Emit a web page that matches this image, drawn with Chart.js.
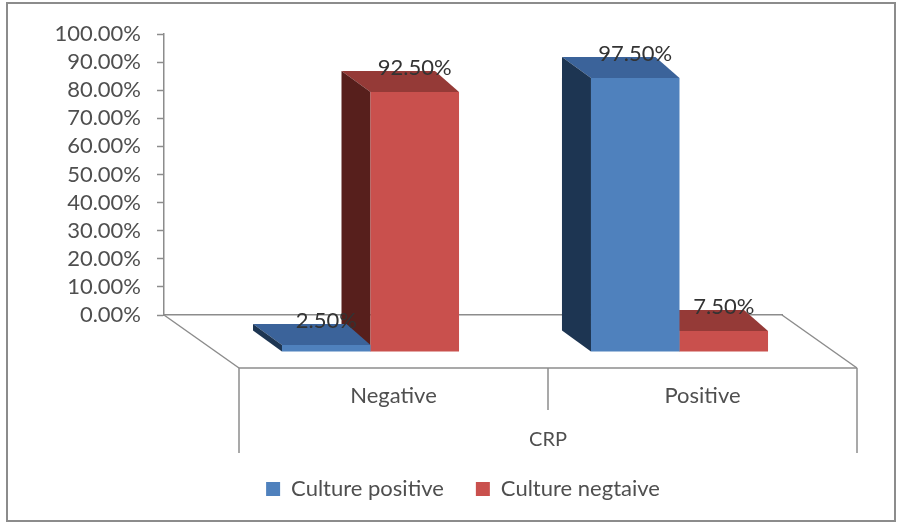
<!DOCTYPE html>
<html>
<head>
<meta charset="utf-8">
<style>
html, body { margin: 0; padding: 0; background: #fff; }
canvas { display: block; }
</style>
<script src="https://cdn.jsdelivr.net/npm/chart.js@4/dist/chart.umd.min.js"></script>
</head>
<body>
<canvas id="crpChart" width="901" height="524"></canvas>
<script>
const categories = ['Negative', 'Positive'];
const culturePositive = [2.5, 97.5];
const cultureNegative = [92.5, 7.5];
const axisTitle = 'CRP';

const textColor = '#4f4f4f';
const lineColor = '#8c8c8c';
const fontFamily = 'Lato, "Open Sans", sans-serif';

// how far the bars and the floor edge sit in front of the back wall
const barShift = { x: 52, y: 37 };
const floorDepth = { x: 75, y: 53 };
// bar depth, the right edge recedes a bit less than the left one
const depthLeft = 29;
const depthRight = 24;
const depthY = 21;

const faces = [
    { top: '#3b639a', side: '#1d3552' },
    { top: '#953a37', side: '#571f1c' }
];

function line(ctx, x1, y1, x2, y2) {
    ctx.beginPath();
    ctx.moveTo(x1, y1);
    ctx.lineTo(x2, y2);
    ctx.stroke();
}

function poly(ctx, pts, color) {
    ctx.fillStyle = color;
    ctx.beginPath();
    pts.forEach(p => ctx.lineTo(p[0], p[1]));
    ctx.closePath();
    ctx.fill();
}

const bars3d = {
    id: 'bars3d',
    afterLayout(chart) {
        // legend row sits right of centre, just under the brackets
        const legend = chart.legend;
        legend.left += 72;
        legend.right += 72;
        legend.top = 446;
    },
    beforeDraw(chart) {
        const ctx = chart.ctx;
        ctx.save();
        ctx.strokeStyle = lineColor;
        ctx.lineWidth = 2;
        ctx.strokeRect(7, 3, 888, 518);
        ctx.restore();
    },
    beforeDatasetsDraw(chart) {
        const ctx = chart.ctx;
        const { left, right, bottom } = chart.chartArea;
        const frontY = bottom + floorDepth.y;
        const frontL = left + floorDepth.x;
        const frontR = right + floorDepth.x;
        const frontM = (frontL + frontR) / 2;

        // floor outline and the category brackets below it
        ctx.save();
        ctx.strokeStyle = lineColor;
        ctx.lineWidth = 1.5;
        line(ctx, left, bottom, frontL, frontY);
        line(ctx, right, bottom, frontR, frontY);
        line(ctx, frontL, frontY, frontR, frontY);
        line(ctx, frontL, frontY, frontL, frontY + 85);
        line(ctx, frontR, frontY, frontR, frontY + 85);
        line(ctx, frontM, frontY, frontM, frontY + 42);

        ctx.fillStyle = textColor;
        ctx.font = '22px ' + fontFamily;
        ctx.textAlign = 'center';
        ctx.textBaseline = 'middle';
        categories.forEach((c, i) => {
            ctx.fillText(c, chart.scales.x.getPixelForValue(i) + floorDepth.x, frontY + 28);
        });
        ctx.font = '20px ' + fontFamily;
        ctx.fillText(axisTitle, frontM, frontY + 72);
        ctx.restore();

        // everything up to afterDatasetsDraw lands on the bar plane
        ctx.save();
        ctx.translate(barShift.x, barShift.y);
        [1, 0].forEach(d => {
            chart.getDatasetMeta(d).data.forEach(bar => {
                const l = bar.x - bar.width / 2;
                const r = bar.x + bar.width / 2;
                poly(ctx, [[l, bar.y], [l - depthLeft, bar.y - depthY], [r - depthRight, bar.y - depthY], [r, bar.y]], faces[d].top);
                poly(ctx, [[l, bar.y], [l - depthLeft, bar.y - depthY], [l - depthLeft, bar.base - depthY], [l, bar.base]], faces[d].side);
            });
        });
    },
    afterDatasetsDraw(chart) {
        const ctx = chart.ctx;
        ctx.restore();

        // value labels sit above the front face
        ctx.save();
        ctx.fillStyle = '#333333';
        ctx.font = '22px ' + fontFamily;
        ctx.textAlign = 'center';
        ctx.textBaseline = 'middle';
        chart.data.datasets.forEach((ds, d) => {
            chart.getDatasetMeta(d).data.forEach((bar, i) => {
                ctx.fillText(ds.data[i].toFixed(2) + '%', bar.x + barShift.x, bar.y + barShift.y - 24);
            });
        });
        ctx.restore();
    }
};

new Chart(document.getElementById('crpChart'), {
    type: 'bar',
    plugins: [bars3d],
    data: {
        labels: categories,
        datasets: [
            { label: 'Culture positive', data: culturePositive, backgroundColor: '#4f81bd', clip: false },
            { label: 'Culture negtaive', data: cultureNegative, backgroundColor: '#c9504d', clip: false }
        ]
    },
    options: {
        responsive: false,
        animation: false,
        barPercentage: 1,
        categoryPercentage: 0.573,
        layout: { padding: { top: 34, right: 119, left: 0, bottom: 8 } },
        scales: {
            x: {
                ticks: { display: false },
                grid: { display: false },
                border: { color: lineColor, width: 1.5 },
                afterFit: s => { s.height = 524 - 315 - 8 - s.chart.legend.height; }
            },
            y: {
                min: 0,
                max: 100,
                afterFit: s => { s.width = 164; },
                ticks: {
                    stepSize: 10,
                    autoSkip: false,
                    padding: 16,
                    color: textColor,
                    font: { family: fontFamily, size: 22 },
                    callback: v => v.toFixed(2) + '%'
                },
                grid: { drawOnChartArea: false, tickLength: 7, tickColor: lineColor, tickWidth: 1.5 },
                border: { color: lineColor, width: 1.5 }
            }
        },
        plugins: {
            tooltip: { enabled: false },
            legend: {
                position: 'bottom',
                labels: {
                    boxWidth: 14,
                    boxHeight: 14,
                    padding: 32,
                    color: textColor,
                    font: { family: fontFamily, size: 22 }
                }
            }
        }
    }
});
</script>
</body>
</html>
